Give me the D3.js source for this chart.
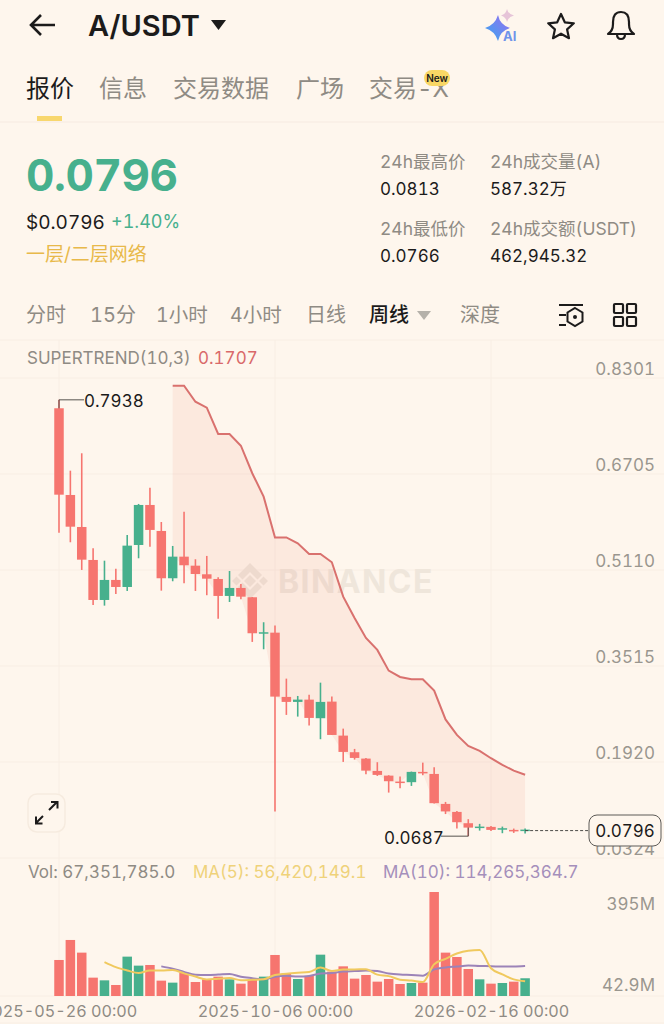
<!DOCTYPE html>
<html>
<head>
<meta charset="utf-8">
<script src="https://cdn.jsdelivr.net/npm/d3@7"></script>
<style>
  html, body { margin: 0; padding: 0; background: #fef6ed; }
  svg { display: block; }
  text { font-family: Inter, "Noto Sans CJK SC", sans-serif; font-variant-numeric: tabular-nums; }
</style>
</head>
<body>
<div id="chart"></div>
<script>
// weekly candles
var openVals = [0.7798,0.6357,0.5825,0.5277,0.4612,0.4945,0.4828,0.5526,0.6191,0.5759,0.4973,0.5332,0.5182,0.5039,0.4961,0.4679,0.4812,0.4657,0.4059,0.4069,0.3001,0.2918,0.2956,0.2647,0.2923,0.2358,0.2082,0.1976,0.1771,0.1693,0.1594,0.1584,0.1755,0.1721,0.1223,0.1090,0.0902,0.0829,0.0841,0.0803,0.0791,0.0785];
var highVals = [0.7938,0.6761,0.7050,0.5471,0.5265,0.5133,0.5692,0.6208,0.6478,0.5908,0.5510,0.6080,0.5289,0.5344,0.4990,0.5094,0.4878,0.4662,0.4242,0.4186,0.3305,0.3017,0.3039,0.3238,0.3006,0.2474,0.2137,0.1987,0.1916,0.1700,0.1677,0.1760,0.1909,0.1833,0.1256,0.1107,0.0969,0.0891,0.0857,0.0846,0.0813,0.0813];
var lowVals = [0.5731,0.5571,0.5111,0.4529,0.4518,0.4712,0.4762,0.5305,0.5498,0.4767,0.4923,0.4890,0.4762,0.4691,0.4302,0.4579,0.4624,0.3915,0.3793,0.1095,0.2702,0.2674,0.2524,0.2298,0.2369,0.1921,0.1959,0.1716,0.1688,0.1411,0.1484,0.1522,0.1700,0.1228,0.1054,0.0813,0.0687,0.0779,0.0774,0.0736,0.0741,0.0730];
var closeVals = [0.6362,0.5830,0.5282,0.4612,0.4945,0.4828,0.5515,0.6191,0.5776,0.4973,0.5332,0.5189,0.5044,0.4966,0.4679,0.4812,0.4667,0.4059,0.4076,0.3006,0.2918,0.2956,0.2652,0.2918,0.2369,0.2087,0.1987,0.1776,0.1705,0.1600,0.1577,0.1755,0.1733,0.1235,0.1098,0.0919,0.0829,0.0846,0.0791,0.0819,0.0774,0.0796];
// supertrend starts at candle 10
var trendVals = [0.8173,0.8173,0.7907,0.7808,0.7371,0.7371,0.7176,0.6718,0.6329,0.5651,0.5651,0.5555,0.5377,0.5377,0.5239,0.4667,0.4313,0.3981,0.3782,0.3438,0.3333,0.3295,0.3295,0.3105,0.2627,0.2369,0.2187,0.2104,0.1982,0.1871,0.1776,0.1707];
// volume in millions
var volVals = [136.8,212.8,164.7,69.7,59.5,41.8,149.5,115.3,117.8,58.3,50.7,88.7,53.2,63.3,73.5,63.3,46.9,60.8,73.5,155.8,86.1,64.6,76,157,92.5,112.7,65.9,79.8,54.5,64.6,45.6,49.4,50.7,395,164.7,148.2,102.6,63.3,46.9,49.4,54.5,67.35];
// MA(5) starts at candle 4, MA(10) at candle 9
var ma5Vals = [128.7,109.7,97,87.2,96.8,96.5,98.3,86,73.8,62.8,65.9,68.4,60,61.6,63.6,80,84.6,88.2,91.2,107.9,95.2,100.6,100.8,101.6,81.1,75.5,62.1,58.8,53,121,141,161.6,172.2,174.8,105.2,82.1,63.3,56.42];
var ma10Vals = [112.6,104,91.6,80.5,79.8,81.2,83.4,73.1,67.7,63.2,73,76.5,74.1,76.4,85.8,87.7,92.6,94.5,96.4,94.5,85.4,81.3,79.8,77.3,101.1,108.3,111.8,115.5,113.9,113.1,111.6,112.5,114.27];
var priceTicks = [0.8301,0.6705,0.5110,0.3515,0.1920,0.0324];
var dateTicks = [0,19,38];
var dateLabels = ["2025-05-26 00:00","2025-10-06 00:00","2026-02-16 00:00"];
var tabs = ["报价","信息","交易数据","广场","交易-X"];
var intervals = ["分时","15分","1小时","4小时","日线","周线","深度"];

var bg = "#fef6ed", red = "#f6756f", green = "#47b08d", grey = "#8f8b84", ink = "#1c1b1b", gridCol = "#f8eee4";

var svg = d3.select("#chart").append("svg").attr("width", 664).attr("height", 1024);
svg.append("rect").attr("width", 664).attr("height", 1024).attr("fill", bg);

function label(x, y, str, size, fill, weight, anchor) {
  return svg.append("text").attr("x", x).attr("y", y).attr("font-size", size)
    .attr("fill", fill).attr("font-weight", weight || 400)
    .attr("text-anchor", anchor || "start").text(str);
}

// header
svg.append("path").attr("d", "M55,25H31M41,15L31,25L41,35").attr("fill", "none").attr("stroke", ink).attr("stroke-width", 2.6);
label(88, 36, "A/USDT", 29, ink, 600);
svg.append("path").attr("d", "M211,20H226L218.500,30Z").attr("fill", ink);
// AI sparkle
var spark = svg.append("defs").append("linearGradient").attr("id", "spark").attr("x1", 0).attr("x2", 1).attr("y1", 1).attr("y2", 0);
spark.append("stop").attr("offset", 0).attr("stop-color", "#35a9f0");
spark.append("stop").attr("offset", 1).attr("stop-color", "#9a6cf0");
svg.append("path").attr("d", "M498,15Q500,25 510,28Q500,31 498,41Q495,31 485,28Q495,25 498,15Z").attr("fill", "url(#spark)");
svg.append("path").attr("d", "M507,9Q508,14 514,15.500Q508,17 507,22Q506,17 501,15.500Q506,14 507,9Z").attr("fill", "#e6c4d8");
label(503, 41, "AI", 13, "#6f93ea", 700);
svg.append("path").attr("d", "M561,14L564.800,22.300L573.800,23.300L567.100,29.400L569,38.200L561,33.700L553,38.200L554.900,29.400L548.200,23.300L557.200,22.300Z")
  .attr("fill", "none").attr("stroke", ink).attr("stroke-width", 2.2).attr("stroke-linejoin", "round");
svg.append("path").attr("d", "M608,34Q613,31 613,24V22Q613,12 621,12Q629,12 629,22V24Q629,31 634,34Z M617,34Q617,39 621,39Q625,39 625,34")
  .attr("fill", "none").attr("stroke", ink).attr("stroke-width", 2.2).attr("stroke-linejoin", "round");

// tabs
var tabX = [26,99,173,296,369];
tabs.forEach(function(t, i) {
  label(tabX[i], 97, t, 24, i == 0 ? ink : grey, 400);
});
svg.append("rect").attr("x", 424).attr("y", 70).attr("width", 26).attr("height", 16).attr("rx", 8).attr("fill", "#f9d765");
label(437, 81.500, "New", 10, ink, 600, "middle");
svg.append("rect").attr("x", 37).attr("y", 116).attr("width", 25).attr("height", 5).attr("fill", "#f8d76e");
svg.append("line").attr("x1", 0).attr("x2", 664).attr("y1", 122).attr("y2", 122).attr("stroke", gridCol).attr("stroke-width", 1.500);

// price block
label(26, 191, "0.0796", 44, green, 700).attr("letter-spacing", -0.4);
label(26, 229, "$0.0796", 19, ink);
label(111, 228, "+1.40%", 18, green);
label(26, 261, "一层/二层网络", 19, "#e8b94a");
label(380, 168, "24h最高价", 17.500, grey);
label(490, 168, "24h成交量(A)", 17.500, grey);
label(380, 195, "0.0813", 17, ink);
label(490, 195, "587.32万", 17, ink);
label(380, 235, "24h最低价", 17.500, grey);
label(490, 235, "24h成交额(USDT)", 17.500, grey);
label(380, 262, "0.0766", 17, ink);
label(490, 262, "462,945.32", 17, ink);

// interval row
var intervalX = [26,90,156,230,306,369,460];
intervals.forEach(function(t, i) {
  label(intervalX[i], 322, t, i == 2 || i == 3 ? 19.500 : 20, i == 5 ? ink : grey, i == 5 ? 500 : 400);
});
svg.append("path").attr("d", "M417,311H431L424,320Z").attr("fill", "#b5b1aa");
svg.append("path").attr("d", "M559,305H583M559,315H566M559,325H566").attr("stroke", ink).attr("stroke-width", 2.2).attr("fill", "none");
svg.append("path").attr("d", "M575,308L582.500,312.500V321.500L575,326L567.500,321.500V312.500Z").attr("stroke", ink).attr("stroke-width", 2).attr("fill", bg);
svg.append("circle").attr("cx", 575).attr("cy", 317).attr("r", 2).attr("fill", ink);
[[614,304],[627,304],[614,317],[627,317]].forEach(function(p) {
  svg.append("rect").attr("x", p[0]).attr("y", p[1]).attr("width", 9).attr("height", 9).attr("rx", 1)
    .attr("fill", "none").attr("stroke", ink).attr("stroke-width", 2.2);
});

// scales
var x = d3.scaleLinear().domain([0, 38]).range([59, 491]);
var y = d3.scaleLinear().domain([0.0324, 0.8301]).range([858, 378]);
var yVol = d3.scaleLinear().domain([0, 395]).range([996, 892]);
var bodyW = 9.500;

// grid
svg.append("line").attr("x1", 0).attr("x2", 664).attr("y1", 340).attr("y2", 340).attr("stroke", gridCol);
svg.selectAll(".hgrid").data(priceTicks).enter().append("line").attr("class", "hgrid")
  .attr("x1", 0).attr("x2", 664).attr("y1", d => y(d)).attr("y2", d => y(d)).attr("stroke", gridCol);
svg.selectAll(".vgrid").data(dateTicks).enter().append("line").attr("class", "vgrid")
  .attr("x1", d => x(d)).attr("x2", d => x(d)).attr("y1", 340).attr("y2", 996).attr("stroke", gridCol);
svg.append("line").attr("x1", 0).attr("x2", 664).attr("y1", 996).attr("y2", 996).attr("stroke", gridCol);

// watermark
var wm = svg.append("g").attr("fill", "#efe6db");
wm.append("text").attr("x", 278).attr("y", 593).attr("font-size", 32).attr("font-weight", 700).attr("letter-spacing", 1.4).text("BINANCE");
wm.append("path").attr("d", "M250,563L262,575L257.500,579.500L250,572L242.500,579.500L238,575Z M232,581L236.500,576.500L241,581L236.500,585.500Z M268,581L263.500,585.500L259,581L263.500,576.500Z M250,575L256,581L250,587L244,581Z M250,599L238,587L242.500,582.500L250,590L257.500,582.500L262,587Z");

// supertrend band
var candles = closeVals.map(function(c, i) {
  return { i: i, open: openVals[i], high: highVals[i], low: lowVals[i], close: c, vol: volVals[i] };
});
var trendData = trendVals.map(function(v, k) { return { i: k + 10, v: v, close: closeVals[k + 10] }; });
svg.append("path").datum(trendData)
  .attr("d", d3.area().x(d => x(d.i)).y0(d => y(d.close)).y1(d => y(d.v)))
  .attr("fill", "#ee7a60").attr("opacity", 0.1);
svg.append("path").datum(trendData)
  .attr("d", d3.line().x(d => x(d.i)).y(d => y(d.v)))
  .attr("fill", "none").attr("stroke", "#d9716e").attr("stroke-width", 2);

// candles
var candleCol = d => d.close >= d.open ? green : red;
svg.selectAll(".wick").data(candles).enter().append("line").attr("class", "wick")
  .attr("x1", d => x(d.i)).attr("x2", d => x(d.i))
  .attr("y1", d => y(d.high)).attr("y2", d => y(d.low))
  .attr("stroke", candleCol).attr("stroke-width", 1.600);
svg.selectAll(".body").data(candles).enter().append("rect").attr("class", "body")
  .attr("x", d => x(d.i) - bodyW / 2).attr("width", bodyW)
  .attr("y", d => y(Math.max(d.open, d.close)))
  .attr("height", d => Math.max(1.500, Math.abs(y(d.open) - y(d.close))))
  .attr("fill", candleCol);

// price axis
var priceAxis = svg.append("g").attr("transform", "translate(655,0)")
  .call(d3.axisRight(y).tickValues(priceTicks).tickFormat(d3.format(".4f")).tickSize(0).tickPadding(0));
priceAxis.select(".domain").remove();
priceAxis.selectAll("text").attr("text-anchor", "end").attr("dy", "-0.2em")
  .attr("font-size", 17).attr("fill", "#9a968f").attr("font-family", null);

// high and low callouts
svg.append("path").attr("d", `M${x(0)},${y(0.7798)}V${y(0.7938)}H84`).attr("fill", "none").attr("stroke", "#55524e");
label(84, 407, "0.7938", 17, ink);
svg.append("path").attr("d", `M${x(36)},${y(0.0829)}V${y(0.0687)}H441`).attr("fill", "none").attr("stroke", "#55524e");
label(384, 844, "0.0687", 17, ink);

// last price tag
svg.append("line").attr("x1", x(41)).attr("x2", 589).attr("y1", y(0.0796) + 1).attr("y2", y(0.0796) + 1)
  .attr("stroke", "#4c4a47").attr("stroke-dasharray", "3,2");
svg.append("rect").attr("x", 589).attr("y", 815).attr("width", 72).attr("height", 31).attr("rx", 8)
  .attr("fill", bg).attr("stroke", "#5c5a56");
label(625, 837, "0.0796", 17, ink, 400, "middle");

// expand button
svg.append("rect").attr("x", 28).attr("y", 794).attr("width", 37).attr("height", 38).attr("rx", 9)
  .attr("fill", bg).attr("stroke", "#f6ebdf").attr("stroke-width", 1.500);
svg.append("path").attr("d", "M49,810L57,802M51,802H57.500V808.500M43,816L36,823M36,816.500V823.500H42.500")
  .attr("fill", "none").attr("stroke", ink).attr("stroke-width", 2);

// indicator legends
label(27, 364, "SUPERTREND(10,3)", 17, grey);
label(198, 364, "0.1707", 17, "#d9696a");
label(28, 878, "Vol: 67,351,785.0", 17, grey);
label(193, 878, "MA(5): 56,420,149.1", 17, "#efd27a");
label(383, 878, "MA(10): 114,265,364.7", 17, "#a58fbb");

// volume bars
svg.selectAll(".vol").data(candles).enter().append("rect").attr("class", "vol")
  .attr("x", d => x(d.i) - bodyW / 2).attr("width", bodyW)
  .attr("y", d => yVol(d.vol)).attr("height", d => yVol(0) - yVol(d.vol))
  .attr("fill", candleCol);

var maLine = d3.line().x(d => x(d.i)).y(d => yVol(d.v)).curve(d3.curveMonotoneX);
svg.append("path").datum(ma10Vals.map((v, k) => ({ i: k + 9, v: v })))
  .attr("d", maLine).attr("fill", "none").attr("stroke", "#9c83b8").attr("stroke-width", 2);
svg.append("path").datum(ma5Vals.map((v, k) => ({ i: k + 4, v: v })))
  .attr("d", maLine).attr("fill", "none").attr("stroke", "#f0c95e").attr("stroke-width", 2);

label(655, 910, "395M", 17, "#9a968f", 400, "end");
label(655, 991, "42.9M", 17, "#9a968f", 400, "end");

// date axis
var dateAxis = svg.append("g").attr("transform", "translate(0,1005)")
  .call(d3.axisBottom(x).tickValues(dateTicks).tickFormat((d, i) => dateLabels[i]).tickSize(0).tickPadding(0));
dateAxis.select(".domain").remove();
dateAxis.selectAll("text").attr("font-size", 16.200).attr("fill", grey).attr("font-family", null);
svg.append("line").attr("x1", 0).attr("x2", 664).attr("y1", 1023).attr("y2", 1023).attr("stroke", gridCol);
</script>
</body>
</html>
